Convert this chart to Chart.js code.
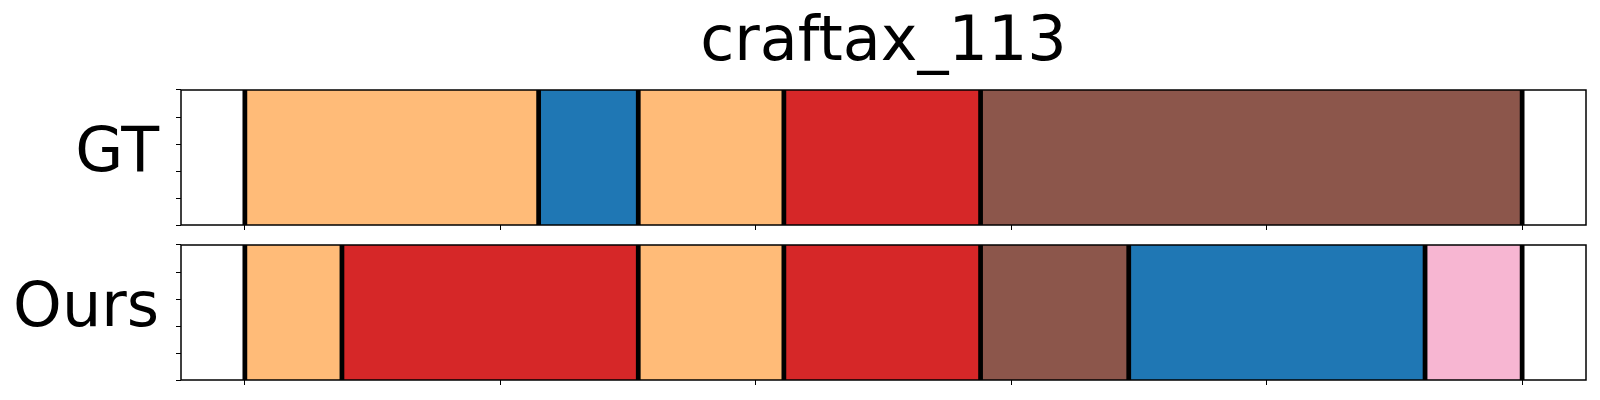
<!DOCTYPE html>
<html>
<head>
<meta charset="utf-8">
<script src="https://cdn.jsdelivr.net/npm/chart.js@4"></script>
<style>
  html, body { margin: 0; padding: 0; background: #fff; }
  #wrap { position: relative; width: 1600px; height: 400px; }
  canvas { position: absolute; left: 0; }
  #gtChart { top: 0; }
  #oursChart { top: 235px; }
</style>
</head>
<body>
<div id="wrap">
  <canvas id="gtChart" width="1600" height="235"></canvas>
  <canvas id="oursChart" width="1600" height="165"></canvas>
</div>
<script>
const title = 'craftax_113';
const rowNames = ['GT', 'Ours'];

// segment boundaries (frame index) and the class of each segment
const gtBounds = [0, 115, 154, 211, 288, 500];
const gtSegments = ['light orange', 'blue', 'light orange', 'red', 'brown'];
const oursBounds = [0, 38, 154, 211, 288, 346, 462, 500];
const oursSegments = ['light orange', 'red', 'light orange', 'red', 'brown', 'blue', 'pink'];

const xTicks = [0, 100, 200, 300, 400, 500];
const yTicks = [0, 0.25, 0.5, 0.75, 1];

const classColors = {
  'light orange': '#ffbb78',
  'blue': '#1f77b4',
  'red': '#d62728',
  'brown': '#8c564b',
  'pink': '#f7b6d2'
};

const FONT = "'DejaVu Sans', sans-serif";
const lineHalf = 0.8; // half width of the black separator, in frames

const frame = {
  id: 'frame',
  afterDraw(chart) {
    const a = chart.chartArea;
    const c = chart.ctx;
    c.save();
    c.strokeStyle = '#000';
    c.lineWidth = 1.5;
    c.strokeRect(a.left, a.top, a.right - a.left, a.bottom - a.top);
    c.restore();
  }
};

function makeChart(id, name, bounds, segments, withTitle, padTop, xHeight) {
  const segData = segments.map((s, i) => ({ x: [bounds[i], bounds[i + 1]], y: name }));
  const lineData = bounds.map(b => ({ x: [b - lineHalf, b + lineHalf], y: name }));
  return new Chart(document.getElementById(id).getContext('2d'), {
    type: 'bar',
    data: {
      labels: [name],
      datasets: [
        {
          label: 'segments',
          data: segData,
          backgroundColor: segments.map(s => classColors[s]),
          borderWidth: 0,
          grouped: false,
          barPercentage: 1,
          categoryPercentage: 1,
          order: 2
        },
        {
          label: 'boundaries',
          data: lineData,
          backgroundColor: '#000',
          borderWidth: 0,
          grouped: false,
          barPercentage: 1,
          categoryPercentage: 1,
          order: 1
        }
      ]
    },
    options: {
      indexAxis: 'y',
      responsive: false,
      animation: false,
      events: [],
      layout: { padding: { left: 0, right: 14, top: padTop, bottom: 0 } },
      plugins: {
        legend: { display: false },
        tooltip: { enabled: false },
        title: {
          display: withTitle,
          fullSize: false,
          text: title,
          color: '#000',
          font: { family: FONT, size: 62, weight: 'normal' },
          padding: { top: 7, bottom: 8.6 }
        }
      },
      scales: {
        x: {
          type: 'linear',
          min: -25,
          max: 525,
          afterBuildTicks: s => { s.ticks = xTicks.map(v => ({ value: v })); },
          afterFit: s => { s.height = xHeight; s.paddingLeft = 0; s.paddingRight = 0; },
          ticks: { display: false },
          grid: { drawOnChartArea: false, drawTicks: true, tickLength: 5, color: '#000', lineWidth: 1 },
          border: { display: false }
        },
        y: {
          type: 'category',
          display: false
        },
        yTicks: {
          type: 'linear',
          position: 'left',
          min: 0,
          max: 1,
          afterBuildTicks: s => { s.ticks = yTicks.map(v => ({ value: v })); },
          afterFit: s => { s.width = 181; s.paddingTop = 0; s.paddingBottom = 0; },
          ticks: {
            color: '#000',
            font: { family: FONT, size: 62 },
            padding: 17,
            labelOffset: -3,
            autoSkip: false,
            callback: v => (v === 0.5 ? name : '')
          },
          grid: { drawOnChartArea: false, drawTicks: true, tickLength: 5, color: '#000', lineWidth: 1 },
          border: { display: false }
        }
      }
    },
    plugins: [frame]
  });
}

makeChart('gtChart', rowNames[0], gtBounds, gtSegments, true, 0, 10);
makeChart('oursChart', rowNames[1], oursBounds, oursSegments, false, 10, 20);
</script>
</body>
</html>
